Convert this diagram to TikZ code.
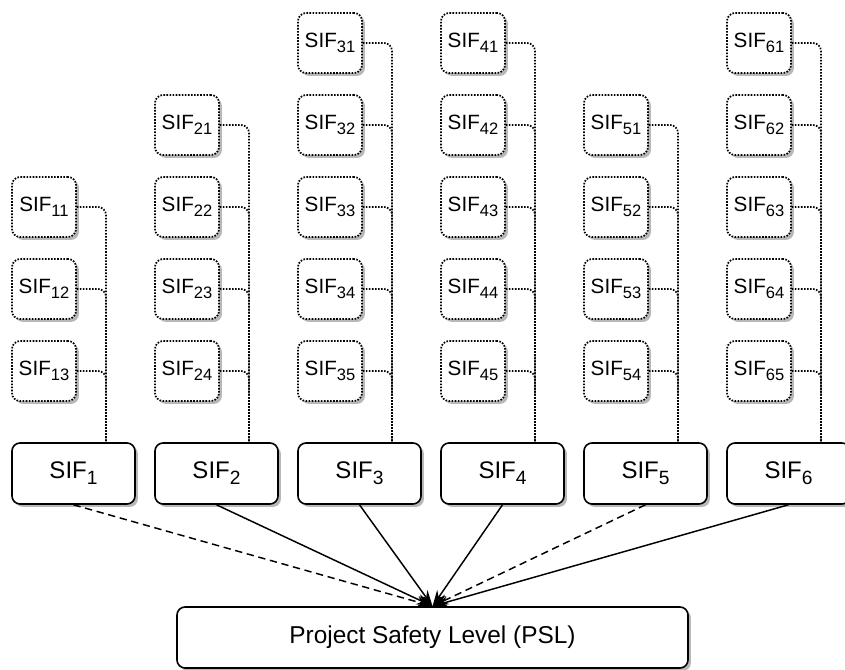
\documentclass[tikz,border=0pt]{standalone}
\usepackage{fontspec}
\setmainfont{Liberation Sans}
\usetikzlibrary{shadows,arrows.meta}
\newcommand{\sbs}[1]{\raisebox{-0.25em}{\scalebox{0.8}{#1}}}
\begin{document}
\begin{tikzpicture}[x=0.75pt,y=-0.75pt,
  shd/.style={drop shadow={shadow xshift=2.2pt,shadow yshift=-2.2pt,fill=black!28,opacity=1}},
  subbox/.style={draw,line width=1.3pt,dash pattern=on 1.2pt off 1.1pt,rounded corners=6pt,fill=white,shd,
    minimum width=48pt,minimum height=45pt,inner sep=1pt,font=\fontsize{15.5}{18}\selectfont},
  mainbox/.style={draw,line width=1.2pt,rounded corners=6pt,fill=white,shd,
    minimum width=92.25pt,minimum height=45.75pt,font=\fontsize{18}{22}\selectfont},
  pslbox/.style={draw,line width=1.2pt,rounded corners=6pt,fill=white,shd,
    minimum width=383.25pt,minimum height=45.75pt,font=\fontsize{18.3}{22}\selectfont},
  link/.style={line width=1.3pt,dash pattern=on 1.14pt off 1.1378pt,rounded corners=6pt},
  arr/.style={line width=1.1pt,-{Stealth[length=12pt,width=8pt]}},
  darr/.style={arr,dash pattern=on 5.5pt off 3.5pt}
]
\useasboundingbox (0,0) rectangle (845,670);
% main boxes
\foreach \i in {1,...,6}{
  \node[mainbox] (b\i) at ({73.5+143*(\i-1)},473.5) {SIF\sbs{\i}};
  \coordinate (t\i) at ({106+143*(\i-1)},443);
}
\node[pslbox] (psl) at (432.5,637.5) {Project Safety Level (PSL)};
% sub boxes: column, first row
\foreach \c/\f in {1/3,2/2,3/1,4/1,5/2,6/1}{
  \foreach \r in {\f,...,5}{
    \pgfmathtruncatemacro{\k}{\r-\f+1}
    \node[subbox] (s\c\k) at ({44+143*(\c-1)},{43+82*(\r-1)}) {SIF\sbs{\c\k}};
  }
}
% links
\foreach \c/\n in {1/3,2/4,3/5,4/5,5/4,6/5}{
  \foreach \k in {1,...,\n}{
    \draw[link] (s\c\k.east) -| (t\c);
  }
}
% arrows
\draw[darr] (b1.south) -- (psl.north);
\draw[arr] (b2.south) -- (psl.north);
\draw[arr] (b3.south) -- (psl.north);
\draw[arr] (b4.south) -- (psl.north);
\draw[darr] (b5.south) -- (psl.north);
\draw[arr] (b6.south) -- (psl.north);
\end{tikzpicture}
\end{document}
